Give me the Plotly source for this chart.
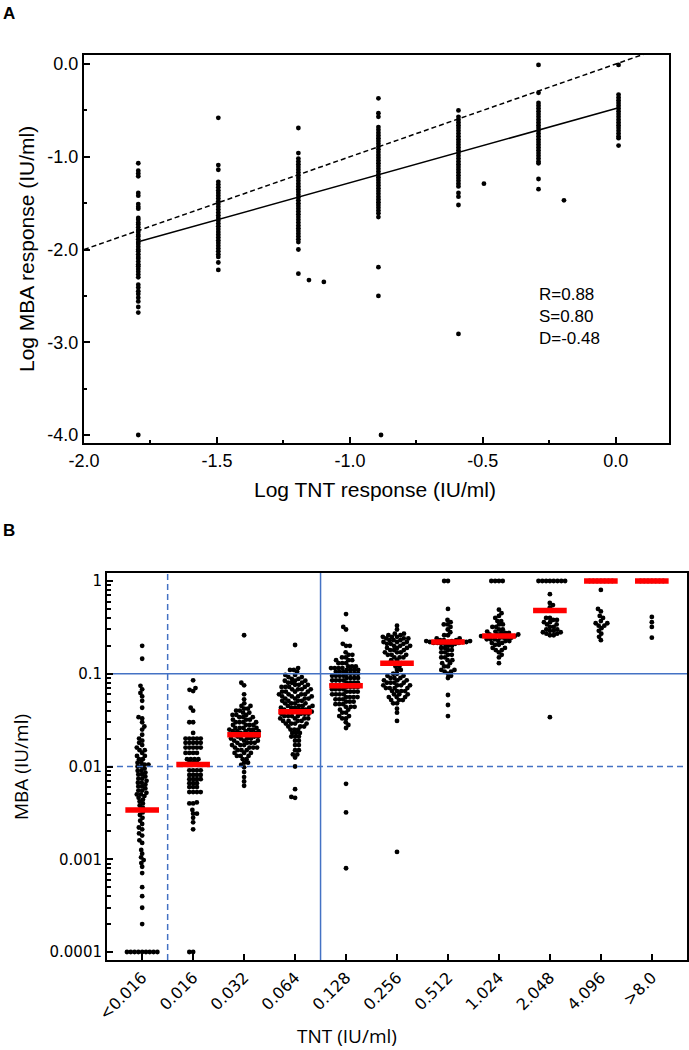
import math
import plotly.graph_objects as go

# ---------------- Panel A data (log10 values) ----------------
A_TNT_LEVELS = [0.016, 0.032, 0.064, 0.128, 0.256, 0.512, 1.024]
A_LOG_MBA_016 = [-1.07, -1.15, -1.18, -1.21, -1.39, -1.42, -1.51, -1.54, -1.56, -1.66, -1.68, -1.71, -1.73,
                 -1.76, -1.79, -1.81, -1.84, -1.86, -1.89, -1.92, -1.94, -1.97, -2.00, -2.02, -2.05, -2.08,
                 -2.10, -2.13, -2.16, -2.18, -2.21, -2.24, -2.27, -2.30, -2.38, -2.41, -2.45, -2.48, -2.52,
                 -2.56, -2.62, -2.68, -4.00]
A_LOG_MBA_032 = [-0.58, -1.09, -1.14, -1.27, -1.30, -1.33, -1.36, -1.39, -1.42, -1.45, -1.48, -1.51, -1.54,
                 -1.57, -1.60, -1.63, -1.66, -1.69, -1.72, -1.75, -1.78, -1.81, -1.84, -1.87, -1.90, -1.93,
                 -1.96, -1.99, -2.02, -2.05, -2.08, -2.14, -2.22]
A_LOG_MBA_064 = [-0.69, -0.96, -1.02, -1.05, -1.08, -1.11, -1.14, -1.17, -1.20, -1.23, -1.26, -1.29, -1.32,
                 -1.35, -1.38, -1.41, -1.44, -1.47, -1.50, -1.53, -1.56, -1.59, -1.62, -1.65, -1.68, -1.71,
                 -1.74, -1.77, -1.80, -1.83, -1.86, -1.89, -1.92, -2.00, -2.26]
A_LOG_MBA_128 = [-0.37, -0.53, -0.57, -0.68, -0.71, -0.74, -0.77, -0.80, -0.83, -0.86, -0.89, -0.92, -0.95,
                 -0.98, -1.01, -1.04, -1.07, -1.10, -1.13, -1.16, -1.19, -1.22, -1.25, -1.28, -1.31, -1.34,
                 -1.37, -1.40, -1.43, -1.46, -1.49, -1.52, -1.55, -1.58, -1.61, -1.65, -2.19, -2.50]
A_LOG_MBA_256 = [-0.50, -0.57, -0.60, -0.63, -0.66, -0.69, -0.72, -0.75, -0.78, -0.81, -0.84, -0.87, -0.90,
                 -0.93, -0.96, -0.99, -1.02, -1.05, -1.08, -1.11, -1.14, -1.17, -1.20, -1.23, -1.26, -1.29,
                 -1.32, -1.39, -1.43, -1.52, -2.91]
A_LOG_MBA_512 = [-0.01, -0.31, -0.42, -0.45, -0.48, -0.51, -0.54, -0.57, -0.60, -0.63, -0.66, -0.69, -0.72,
                 -0.75, -0.78, -0.81, -0.84, -0.87, -0.90, -0.93, -0.96, -0.99, -1.02, -1.05, -1.07, -1.24,
                 -1.35]
A_LOG_MBA_1024 = [-0.01, -0.33, -0.36, -0.39, -0.42, -0.45, -0.48, -0.51, -0.54, -0.57, -0.60, -0.63, -0.66,
                  -0.69, -0.72, -0.75, -0.78, -0.80, -0.88]
A_LOG_MBA = [A_LOG_MBA_016, A_LOG_MBA_032, A_LOG_MBA_064, A_LOG_MBA_128,
             A_LOG_MBA_256, A_LOG_MBA_512, A_LOG_MBA_1024]
A_EXTRA_LOG_TNT = [-1.154, -1.098, -0.883, -0.496, -0.195]
A_EXTRA_LOG_MBA = [-2.33, -2.35, -4.00, -1.29, -1.47]
R_VAL, S_VAL, D_VAL = 0.88, 0.80, -0.48
A_XTICKS = [-2.0, -1.5, -1.0, -0.5, 0.0]
A_YTICKS = [-4.0, -3.0, -2.0, -1.0, 0.0]

# ---------------- Panel B data: (MBA value IU/ml, number of samples) ----------------
B_CATEGORIES = ["<0.016", "0.016", "0.032", "0.064", "0.128", "0.256",
                "0.512", "1.024", "2.048", "4.096", ">8.0"]
B_MEDIANS = [0.0034, 0.0105, 0.022, 0.039, 0.074, 0.13, 0.22, 0.255, 0.48, 1.0, 1.0]
B_MBA_LT016 = [(0.20, 1), (0.145, 1), (0.074, 1), (0.068, 1), (0.062, 1), (0.057, 1), (0.051, 1), (0.043, 1),
               (0.034, 1), (0.033, 1), (0.030, 1), (0.027, 1), (0.025, 1), (0.022, 1), (0.020, 1), (0.019, 1),
               (0.018, 1), (0.017, 1), (0.016, 1), (0.015, 2), (0.014, 1), (0.013, 2), (0.012, 2), (0.011, 2),
               (0.0105, 2), (0.010, 2), (0.0095, 1), (0.009, 2), (0.0086, 1), (0.0082, 2), (0.0078, 1),
               (0.0074, 2), (0.007, 1), (0.0067, 2), (0.0064, 1), (0.0061, 2), (0.0058, 1), (0.0055, 2),
               (0.0052, 1), (0.005, 2), (0.0048, 1), (0.0046, 1), (0.0044, 1), (0.0042, 1), (0.004, 1),
               (0.0038, 1), (0.0036, 1), (0.0034, 1), (0.0032, 1), (0.0030, 1),
               (0.0028, 1), (0.0026, 1), (0.0024, 1), (0.0022, 1),
               (0.0021, 1), (0.0019, 1), (0.0018, 1), (0.0016, 1),
               (0.0015, 1), (0.00126, 1), (0.00115, 1), (0.00105, 1), (0.00098, 1),
               (0.00091, 1), (0.00083, 1), (0.00071, 1), (0.0005, 1), (0.0004, 1), (0.0003, 1),
               (0.0002, 1), (0.0001, 9)]
B_MBA_016 = [(0.085, 1), (0.070, 1), (0.067, 1), (0.065, 1), (0.043, 1), (0.040, 1), (0.030, 2), (0.023, 1),
             (0.020, 5), (0.018, 5), (0.016, 5), (0.014, 4), (0.012, 4), (0.011, 3), (0.0091, 4), (0.0081, 4),
             (0.0073, 4), (0.0066, 3), (0.006, 3), (0.0053, 4), (0.0041, 1), (0.004, 2), (0.0034, 1),
             (0.0031, 2), (0.0028, 1), (0.0025, 1), (0.0021, 1), (0.0001, 2)]
B_MBA_032 = [(0.26, 1), (0.080, 1), (0.075, 1), (0.060, 1), (0.053, 1), (0.048, 1), (0.045, 2), (0.042, 2),
             (0.040, 2), (0.038, 2), (0.036, 3), (0.034, 3), (0.032, 3), (0.030, 4), (0.028, 4), (0.026, 4),
             (0.025, 3), (0.024, 4), (0.023, 3), (0.022, 4), (0.021, 3), (0.020, 4), (0.019, 3), (0.018, 4),
             (0.017, 3), (0.016, 4), (0.015, 3), (0.014, 3), (0.013, 3), (0.012, 2), (0.011, 2), (0.0104, 1),
             (0.0098, 1), (0.0087, 1), (0.0077, 1), (0.0069, 1), (0.0062, 1)]
B_MBA_064 = [(0.204, 1), (0.115, 1), (0.110, 2), (0.105, 1), (0.097, 2), (0.092, 2), (0.088, 2), (0.084, 3),
             (0.080, 3), (0.076, 3), (0.072, 4), (0.068, 4), (0.064, 4), (0.060, 4), (0.057, 4), (0.054, 4),
             (0.051, 4), (0.048, 4), (0.045, 4), (0.043, 4), (0.041, 4), (0.039, 4), (0.037, 4), (0.035, 4),
             (0.033, 4), (0.031, 4), (0.029, 4), (0.027, 3), (0.025, 3), (0.023, 3), (0.021, 3), (0.019, 2),
             (0.017, 2), (0.015, 2), (0.0135, 2), (0.0125, 1), (0.010, 1), (0.0057, 1), (0.0047, 1),
             (0.0046, 1)]
B_MBA_128 = [(0.44, 1), (0.32, 1), (0.30, 1), (0.21, 1), (0.20, 2), (0.17, 1), (0.16, 2), (0.15, 2), (0.14, 3),
             (0.13, 3), (0.12, 3), (0.115, 4), (0.11, 4), (0.105, 3), (0.10, 4), (0.095, 4), (0.09, 4),
             (0.085, 4), (0.08, 4), (0.076, 4), (0.072, 4), (0.068, 4), (0.064, 4), (0.06, 4), (0.056, 4),
             (0.053, 3), (0.05, 3), (0.047, 3), (0.044, 3), (0.041, 2), (0.038, 2), (0.035, 2), (0.033, 2),
             (0.03, 1), (0.028, 1), (0.026, 1), (0.0065, 1), (0.0032, 1), (0.0008, 1)]
B_MBA_256 = [(0.33, 1), (0.30, 1), (0.27, 2), (0.26, 2), (0.25, 3), (0.24, 3), (0.23, 3), (0.22, 3), (0.21, 3),
             (0.20, 3), (0.19, 3), (0.18, 3), (0.17, 3), (0.16, 3), (0.15, 3), (0.14, 2), (0.13, 2), (0.12, 2),
             (0.11, 2), (0.10, 2), (0.095, 2), (0.09, 3), (0.085, 3), (0.08, 4), (0.075, 4), (0.07, 4),
             (0.065, 4), (0.06, 3), (0.056, 3), (0.052, 3), (0.048, 2), (0.042, 1), (0.038, 1), (0.031, 1),
             (0.0012, 1)]
B_MBA_512 = [(1.0, 2), (0.50, 1), (0.38, 1), (0.36, 1), (0.34, 2), (0.32, 1), (0.30, 1), (0.28, 1), (0.26, 2),
             (0.24, 2), (0.23, 3), (0.225, 3), (0.22, 4), (0.215, 3), (0.21, 3), (0.20, 2), (0.19, 2), (0.18, 2),
             (0.17, 2), (0.16, 2), (0.15, 2), (0.14, 2), (0.13, 2), (0.12, 2), (0.11, 2), (0.105, 2), (0.10, 1),
             (0.095, 1), (0.09, 1), (0.059, 1), (0.046, 1), (0.035, 1)]
B_MBA_1024 = [(1.0, 4), (0.49, 1), (0.45, 1), (0.42, 1), (0.40, 1), (0.37, 2), (0.34, 2), (0.32, 2), (0.30, 2),
              (0.285, 2), (0.275, 3), (0.265, 3), (0.255, 4), (0.245, 4), (0.235, 3), (0.225, 3), (0.215, 2),
              (0.205, 2), (0.19, 2), (0.18, 2), (0.17, 1), (0.16, 1), (0.15, 1), (0.13, 1)]
B_MBA_2048 = [(1.0, 8), (0.72, 1), (0.58, 1), (0.55, 1), (0.52, 1), (0.40, 2), (0.38, 2), (0.36, 2), (0.34, 2),
              (0.32, 2), (0.30, 2), (0.29, 2), (0.28, 2), (0.27, 2), (0.26, 2), (0.034, 1)]
B_MBA_4096 = [(1.0, 7), (0.80, 1), (0.50, 1), (0.47, 1), (0.42, 1), (0.40, 1), (0.37, 1), (0.35, 2), (0.33, 2),
              (0.31, 1), (0.29, 1), (0.27, 1), (0.25, 1), (0.23, 1)]
B_MBA_GT8 = [(1.0, 7), (0.41, 1), (0.36, 1), (0.32, 1), (0.245, 1)]
B_MBA = [B_MBA_LT016, B_MBA_016, B_MBA_032, B_MBA_064, B_MBA_128, B_MBA_256,
         B_MBA_512, B_MBA_1024, B_MBA_2048, B_MBA_4096, B_MBA_GT8]
B_YTICKS = [0.0001, 0.001, 0.01, 0.1, 1]
B_YTICKTEXT = ["0.0001", "0.001", "0.01", "0.1", "1"]
B_REF_MBA_SOLID, B_REF_MBA_DASH = 0.1, 0.01
B_REF_CAT_DASH, B_REF_CAT_SOLID = 0.5, 3.5

# ---------------- geometry (pixels) ----------------
W, H = 689, 1050
A_BOX = dict(l=84, r=669, t=55, b=443)
B_BOX = dict(l=107, r=687, t=573, b=960)
A_XR = [-2.0, 0.2]
A_YR = [-4.086, 0.097]
B_XR = [-0.69, 10.69]
B_YR_LOG = [-4.086, 0.086]

BLUE = "#4472C4"
RED = "#ff0000"
FA = "Liberation Sans, Arial, sans-serif"
FB = "DejaVu Sans, Verdana, sans-serif"
FT = "Open Sans, Segoe UI, sans-serif"


def px(x):
    return x / W


def py(y):
    return 1 - y / H


def swarm(values, d, ppd):
    ys = [math.log10(v) * ppd for v in values]
    order = sorted(range(len(values)), key=lambda i: ys[i])
    placed, xs, flip = [], [0.0] * len(values), 1
    for i in order:
        y = ys[i]
        near = [(a, b) for a, b in placed if abs(b - y) < d]
        cands = [0.0]
        for a, b in near:
            dx = math.sqrt(max(d * d - (b - y) ** 2, 0.0))
            cands += [a + dx, a - dx]
        cands = sorted(set(round(c, 4) for c in cands), key=lambda c: (abs(c), -flip * c))
        for c in cands:
            if all((c - a) ** 2 + (y - b) ** 2 >= d * d - 1e-3 for a, b in near):
                xs[i] = c
                placed.append((c, y))
                flip = -flip
                break
    return xs


fig = go.Figure()

# ---------- Panel A ----------
ax_x, ax_y = [], []
for lvl, col in zip(A_TNT_LEVELS, A_LOG_MBA):
    ax_x += [math.log10(lvl)] * len(col)
    ax_y += col
ax_x += A_EXTRA_LOG_TNT
ax_y += A_EXTRA_LOG_MBA
fig.add_trace(go.Scatter(x=ax_x, y=ax_y, mode="markers", xaxis="x", yaxis="y",
                         marker=dict(color="black", size=4.8), showlegend=False))
x0, x1 = math.log10(min(A_TNT_LEVELS)), math.log10(max(A_TNT_LEVELS))
fig.add_trace(go.Scatter(x=[x0, x1], y=[S_VAL * x0 + D_VAL, S_VAL * x1 + D_VAL], mode="lines",
                         xaxis="x", yaxis="y", line=dict(color="black", width=1.5), showlegend=False))
fig.add_trace(go.Scatter(x=A_XR, y=A_XR, mode="lines", xaxis="x", yaxis="y",
                         line=dict(color="black", width=1.5, dash="5px,3px"), showlegend=False))

# ---------- Panel B ----------
ppd = (B_BOX["b"] - B_BOX["t"]) / (B_YR_LOG[1] - B_YR_LOG[0])
ppc = (B_BOX["r"] - B_BOX["l"]) / (B_XR[1] - B_XR[0])
bx, by = [], []
for i, pairs in enumerate(B_MBA):
    vals = []
    for v, c in pairs:
        vals += [v] * c
    offs = swarm(vals, 3.8, ppd)
    bx += [i + o / ppc for o in offs]
    by += vals
fig.add_trace(go.Scatter(x=bx, y=by, mode="markers", xaxis="x2", yaxis="y2",
                         marker=dict(color="black", size=4.8), showlegend=False))
ylo, yhi = 10 ** B_YR_LOG[0], 10 ** B_YR_LOG[1]
for xs, ys, dash in [(B_XR, [B_REF_MBA_SOLID] * 2, "solid"), (B_XR, [B_REF_MBA_DASH] * 2, "6px,4px"),
                     ([B_REF_CAT_DASH] * 2, [ylo, yhi], "6px,4px"), ([B_REF_CAT_SOLID] * 2, [ylo, yhi], "solid")]:
    fig.add_trace(go.Scatter(x=xs, y=ys, mode="lines", xaxis="x2", yaxis="y2",
                             line=dict(color=BLUE, width=1.5, dash=dash), showlegend=False))
mx, my = [], []
for i, m in enumerate(B_MEDIANS):
    mx += [i - 0.33, i + 0.33, None]
    my += [m, m, None]
fig.add_trace(go.Scatter(x=mx, y=my, mode="lines", xaxis="x2", yaxis="y2",
                         line=dict(color=RED, width=5.5), showlegend=False))

axis_common = dict(showline=True, linewidth=2, linecolor="black", mirror=True, showgrid=False,
                   zeroline=False, ticks="inside", ticklen=6, tickwidth=2, tickcolor="black",
                   automargin=False)
fig.update_layout(
    template="none",
    width=W, height=H, autosize=False, margin=dict(l=0, r=0, t=0, b=0, pad=0),
    paper_bgcolor="white", plot_bgcolor="white", showlegend=False,
    xaxis=dict(domain=[px(A_BOX["l"]), px(A_BOX["r"])], anchor="y", range=A_XR,
               tickvals=A_XTICKS, ticktext=[f"{v:.1f}" for v in A_XTICKS],
               tickfont=dict(family=FA, size=18, color="black"),
               minor=dict(tickmode="array", tickvals=[-1.75, -1.25, -0.75, -0.25], ticks="inside",
                          ticklen=3, tickwidth=2, tickcolor="black"), **axis_common),
    yaxis=dict(domain=[py(A_BOX["b"]), py(A_BOX["t"])], anchor="x", range=A_YR,
               tickvals=A_YTICKS, ticktext=[f"{v:.1f}" for v in A_YTICKS],
               tickfont=dict(family=FA, size=18, color="black"),
               minor=dict(tickmode="array", tickvals=[-3.5, -2.5, -1.5, -0.5], ticks="inside",
                          ticklen=3, tickwidth=2, tickcolor="black"), **axis_common),
    xaxis2=dict(domain=[px(B_BOX["l"]), px(B_BOX["r"])], anchor="y2", range=B_XR,
                tickvals=list(range(len(B_CATEGORIES))), ticktext=B_CATEGORIES, tickangle=-45,
                tickfont=dict(family=FB, size=16, color="black"), **axis_common),
    yaxis2=dict(domain=[py(B_BOX["b"]), py(B_BOX["t"])], anchor="x2", type="log", range=B_YR_LOG,
                tickvals=B_YTICKS, ticktext=B_YTICKTEXT,
                tickfont=dict(family=FB, size=15, color="black"),
                minor=dict(tickmode="array",
                           tickvals=[k * 10 ** e for e in range(-4, 0) for k in range(2, 10)],
                           ticks="inside", ticklen=4, tickwidth=1.5, tickcolor="black"), **axis_common),
)

ann = [
    dict(text="<b>A</b>", x=px(1), y=py(2), xanchor="left", yanchor="top",
         font=dict(family=FA, size=17, color="black")),
    dict(text="<b>B</b>", x=px(1), y=py(519), xanchor="left", yanchor="top",
         font=dict(family=FA, size=17, color="black")),
    dict(text="Log TNT response (IU/ml)", x=px(375), y=py(489), xanchor="center", yanchor="middle",
         font=dict(family=FA, size=21, color="black")),
    dict(text="Log MBA response (IU/ml)", x=px(27), y=py(249), xanchor="center", yanchor="middle",
         textangle=-90, font=dict(family=FA, size=21, color="black")),
    dict(text=f"R={R_VAL:.2f}<br>S={S_VAL:.2f}<br>D={D_VAL:.2f}", x=px(537), y=py(316),
         xanchor="left", yanchor="middle", align="left", font=dict(family=FA, size=17, color="black")),
    dict(text="MBA (IU/ml)", x=px(21), y=py(767), xanchor="center", yanchor="middle", textangle=-90,
         font=dict(family=FT, size=19, color="black")),
    dict(text="TNT (IU/ml)", x=px(347), y=py(1036), xanchor="center", yanchor="middle",
         font=dict(family=FT, size=19, color="black")),
]
for a in ann:
    a.update(xref="paper", yref="paper", showarrow=False)
fig.update_layout(annotations=ann)

fig.write_html("out.html", config={"displayModeBar": False},
               post_script="document.body.style.margin='0';document.body.style.overflow='hidden';")
